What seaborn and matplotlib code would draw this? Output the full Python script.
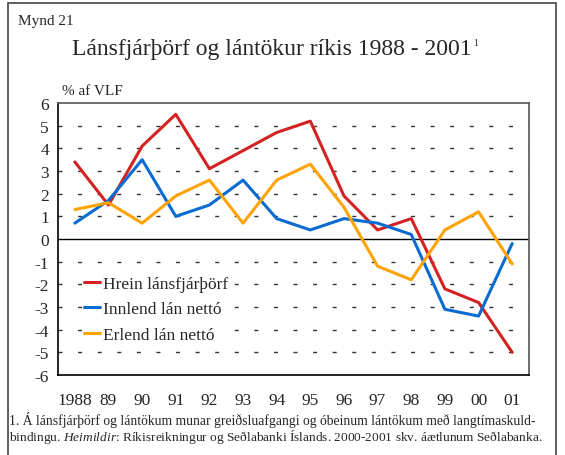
import numpy as np
import pandas as pd
import matplotlib
matplotlib.use('Agg')
import matplotlib.pyplot as plt
from matplotlib.patches import Rectangle
import seaborn as sns

years = list(range(1988, 2002))
year_labels = ['1988', '89', '90', '91', '92', '93', '94', '95', '96', '97', '98', '99', '00', '01']

hrein = [3.4, 1.5, 4.1, 5.5, 3.1, 3.9, 4.7, 5.2, 1.9, 0.4, 0.9, -2.2, -2.8, -5.0]
innlend = [0.7, 1.7, 3.5, 1.0, 1.5, 2.6, 0.9, 0.4, 0.9, 0.7, 0.2, -3.1, -3.4, -0.2]
erlend = [1.3, 1.6, 0.7, 1.9, 2.6, 0.7, 2.6, 3.3, 1.4, -1.2, -1.8, 0.4, 1.2, -1.1]

series_names = ['Hrein lánsfjárþörf', 'Innlend lán nettó', 'Erlend lán nettó']
colors = ['#d42222', '#0a6cd2', '#ffa305']

df = pd.DataFrame({
    'ar': years * 3,
    'gildi': hrein + innlend + erlend,
    'rod': [n for n in series_names for _ in years],
})

sns.set_style('white')
plt.rcParams['font.family'] = ['Liberation Serif', 'DejaVu Serif']
plt.rcParams['mathtext.fontset'] = 'custom'
plt.rcParams['mathtext.rm'] = 'Liberation Serif'
plt.rcParams['mathtext.it'] = 'Liberation Serif:italic'

fig = plt.figure(figsize=(5.65, 4.56), dpi=100)
ax = fig.add_axes([0.1027, 0.1754, 0.8336, 0.5965])

# dashed horizontal grid
for v in range(-5, 6):
    if v == 0:
        continue
    ax.axhline(v, color='#333333', lw=1, linestyle=(0, (2.9, 11.2)), zorder=0)
ax.axhline(0, color='black', lw=1, zorder=1)

sns.lineplot(data=df, x='ar', y='gildi', hue='rod', palette=colors,
             hue_order=series_names, linewidth=2.2, ax=ax, zorder=3)

ax.set_xlim(1987.5, 2001.5)
ax.set_ylim(-6, 6)
ax.set_xticks(years)
ax.set_xticklabels(year_labels)
ax.set_yticks(range(-6, 7))
ax.set_yticklabels([str(v) for v in range(-6, 7)])
ax.set_xlabel('')
ax.set_ylabel('')
ax.tick_params(axis='x', direction='out', length=5, width=1, labelsize=12.5, pad=7, color='black')
ax.tick_params(axis='y', direction='inout', length=9, width=1, labelsize=12.5, pad=2, color='black')
for side in ['left', 'bottom']:
    ax.spines[side].set_color('black')
    ax.spines[side].set_linewidth(1.2)
for side in ['top', 'right']:
    ax.spines[side].set_color('#555555')
    ax.spines[side].set_linewidth(1.2)

leg = ax.legend(loc='upper left', bbox_to_anchor=(0.05, 0.375), borderaxespad=0,
                fontsize=12.5, handlelength=0.9, handletextpad=0.2, labelspacing=0.55,
                frameon=True, borderpad=0.15)
leg.get_frame().set_facecolor('white')
leg.get_frame().set_edgecolor('none')
leg.get_frame().set_alpha(1)
for line in leg.get_lines():
    line.set_linewidth(2.2)

fig.text(18 / 565, 1 - 22 / 456, 'Mynd 21', fontsize=11, va='center', ha='left')
fig.text(72 / 565, 1 - 50 / 456, 'Lánsfjárþörf og lántökur ríkis 1988 - 2001',
         fontsize=17, va='center', ha='left')
fig.text(473 / 565, 1 - 43 / 456, '1', fontsize=7, va='center', ha='left')
fig.text(62 / 565, 1 - 92 / 456, '% af VLF', fontsize=11, va='center', ha='left')

fig.text(9 / 565, 1 - 420 / 456,
         '1. Á lánsfjárþörf og lántökum munar greiðsluafgangi og óbeinum lántökum með langtímaskuld-',
         fontsize=9.8, va='center', ha='left')
fig.text(9 / 565, 1 - 437 / 456,
         'bindingu. $\\mathit{Heimildir}$: Ríkisreikningur og Seðlabanki Íslands. 2000-2001 skv. áætlunum Seðlabanka.',
         fontsize=9.6, va='center', ha='left')

fig.patches.append(Rectangle((8 / 565, -0.01), 548 / 565, 1 - 4 / 456 + 0.01,
                             transform=fig.transFigure, fill=False,
                             edgecolor='#444444', lw=1.2))

fig.savefig('out.png', dpi=100)
